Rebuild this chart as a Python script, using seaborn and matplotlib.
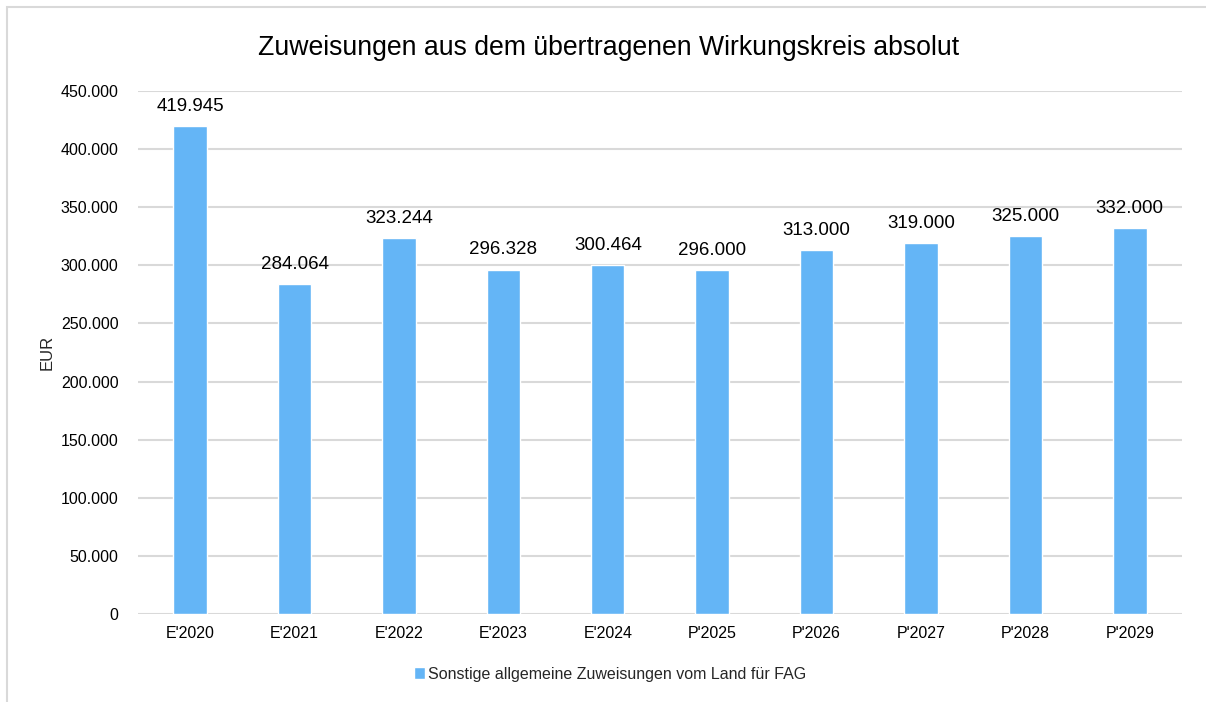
import matplotlib
matplotlib.use("Agg")
import matplotlib.pyplot as plt
import seaborn as sns
import pandas as pd
from matplotlib.patches import Rectangle
from matplotlib.ticker import FuncFormatter, MultipleLocator

# Data
years = ["E'2020", "E'2021", "E'2022", "E'2023", "E'2024",
         "P'2025", "P'2026", "P'2027", "P'2028", "P'2029"]
values = [419945, 284064, 323244, 296328, 300464,
          296000, 313000, 319000, 325000, 332000]
series_name = "Sonstige allgemeine Zuweisungen vom Land für FAG"

bar_color = "#64B5F6"
grid_color = "#D9D9D9"

sns.set_theme(style="white")
plt.rcParams['font.family'] = ['Liberation Sans', 'DejaVu Sans']

df = pd.DataFrame({"Jahr": years, "Wert": values, "Serie": series_name})

# dot as thousands separator
def de_fmt(v):
    return f"{int(round(v)):,}".replace(",", ".")

fig = plt.figure(figsize=(12.06, 7.02), dpi=100)
ax = fig.add_axes([0.1144, 0.1254, 0.8657, 0.745])

sns.barplot(data=df, x="Jahr", y="Wert", hue="Serie", palette=[bar_color],
            width=0.32, ax=ax, saturation=1, legend=True)

ax.set_ylim(0, 450000)
ax.set_xlim(-0.5, len(years) - 0.5)
ax.yaxis.set_major_locator(MultipleLocator(50000))
ax.yaxis.set_major_formatter(FuncFormatter(lambda v, p: de_fmt(v)))
ax.grid(axis="y", color=grid_color, linewidth=1.5)
ax.set_axisbelow(True)
for s in ax.spines.values():
    s.set_visible(False)
ax.tick_params(axis="both", length=0, labelsize=11.5, colors="#000000")
ax.tick_params(axis="y", pad=14)
ax.tick_params(axis="x", pad=9)
ax.set_xlabel("")
ax.set_ylabel("EUR", fontsize=12, labelpad=4)

for c in ax.containers:
    ax.bar_label(c, labels=[de_fmt(v) for v in c.datavalues], padding=8,
                 fontsize=13.5, color="#000000")

fig.suptitle("Zuweisungen aus dem übertragenen Wirkungskreis absolut",
             x=0.505, y=0.95, fontsize=19.2, color="#000000")

leg = ax.legend(loc="upper center", bbox_to_anchor=(0.452, -0.073), frameon=False,
                fontsize=11.5, handlelength=0.7, handleheight=0.7,
                handletextpad=0.15)

# outer chart frame (only top and left edge visible in the crop)
fig.patches.append(Rectangle((7 / 1206, -0.1), 1.2, 1 - 7 / 702 + 0.1,
                             transform=fig.transFigure, fill=False,
                             edgecolor="#D9D9D9", linewidth=1.5))

fig.savefig("out.png", dpi=100)
